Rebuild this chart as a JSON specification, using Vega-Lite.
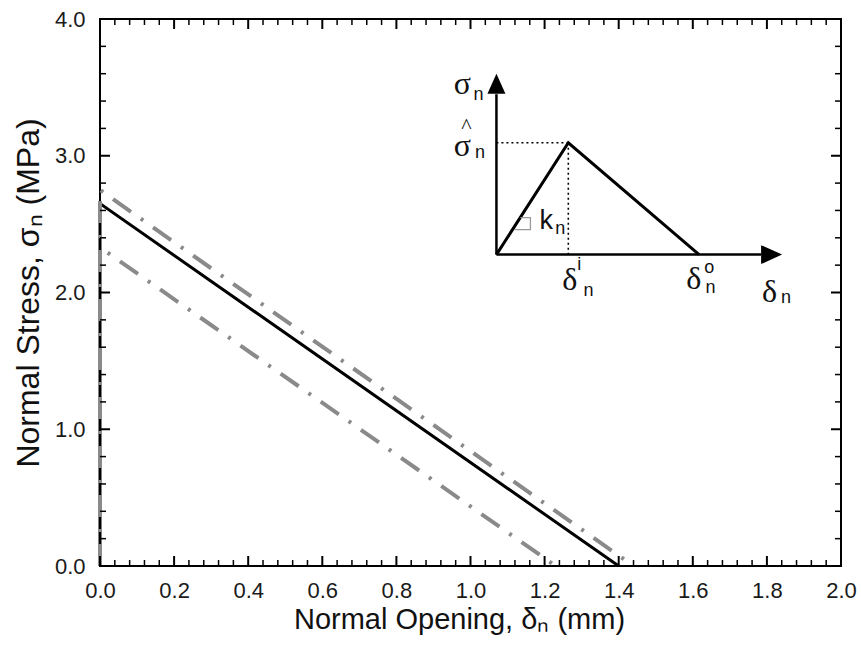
{
  "$schema": "https://vega.github.io/schema/vega-lite/v6.json",
  "width": 741,
  "height": 547,
  "autosize": {"type": "none"},
  "padding": {"left": 100, "top": 19, "right": 20, "bottom": 81},
  "background": "white",
  "config": {
    "view": {"stroke": "black", "strokeWidth": 2},
    "axis": {
      "grid": false,
      "domain": false,
      "labelFont": "Liberation Sans",
      "labelFontSize": 22,
      "labelColor": "#1a1a1a",
      "labelFlush": false,
      "labelOverlap": false,
      "titleFont": "Liberation Sans",
      "titleFontSize": 29,
      "titleFontWeight": "normal",
      "titleColor": "#111111"
    }
  },
  "datasets": {
    "curves": [
      {"series": "nominal", "i": 0, "x": 0, "y": 0},
      {"series": "nominal", "i": 1, "x": 0, "y": 2.65},
      {"series": "nominal", "i": 2, "x": 1.4, "y": 0},
      {"series": "upper", "i": 0, "x": 0, "y": 0},
      {"series": "upper", "i": 1, "x": 0, "y": 2.75},
      {"series": "upper", "i": 2, "x": 1.44, "y": 0},
      {"series": "lower", "i": 0, "x": 0, "y": 0},
      {"series": "lower", "i": 1, "x": 0, "y": 2.33},
      {"series": "lower", "i": 2, "x": 1.23, "y": 0}
    ],
    "xticks": [
      {"v": 0, "kind": "major"}, {"v": 0.04, "kind": "minor"}, {"v": 0.08, "kind": "minor"}, {"v": 0.12, "kind": "minor"}, {"v": 0.16, "kind": "minor"},
      {"v": 0.2, "kind": "major"}, {"v": 0.24, "kind": "minor"}, {"v": 0.28, "kind": "minor"}, {"v": 0.32, "kind": "minor"}, {"v": 0.36, "kind": "minor"},
      {"v": 0.4, "kind": "major"}, {"v": 0.44, "kind": "minor"}, {"v": 0.48, "kind": "minor"}, {"v": 0.52, "kind": "minor"}, {"v": 0.56, "kind": "minor"},
      {"v": 0.6, "kind": "major"}, {"v": 0.64, "kind": "minor"}, {"v": 0.68, "kind": "minor"}, {"v": 0.72, "kind": "minor"}, {"v": 0.76, "kind": "minor"},
      {"v": 0.8, "kind": "major"}, {"v": 0.84, "kind": "minor"}, {"v": 0.88, "kind": "minor"}, {"v": 0.92, "kind": "minor"}, {"v": 0.96, "kind": "minor"},
      {"v": 1.0, "kind": "major"}, {"v": 1.04, "kind": "minor"}, {"v": 1.08, "kind": "minor"}, {"v": 1.12, "kind": "minor"}, {"v": 1.16, "kind": "minor"},
      {"v": 1.2, "kind": "major"}, {"v": 1.24, "kind": "minor"}, {"v": 1.28, "kind": "minor"}, {"v": 1.32, "kind": "minor"}, {"v": 1.36, "kind": "minor"},
      {"v": 1.4, "kind": "major"}, {"v": 1.44, "kind": "minor"}, {"v": 1.48, "kind": "minor"}, {"v": 1.52, "kind": "minor"}, {"v": 1.56, "kind": "minor"},
      {"v": 1.6, "kind": "major"}, {"v": 1.64, "kind": "minor"}, {"v": 1.68, "kind": "minor"}, {"v": 1.72, "kind": "minor"}, {"v": 1.76, "kind": "minor"},
      {"v": 1.8, "kind": "major"}, {"v": 1.84, "kind": "minor"}, {"v": 1.88, "kind": "minor"}, {"v": 1.92, "kind": "minor"}, {"v": 1.96, "kind": "minor"},
      {"v": 2.0, "kind": "major"}
    ],
    "yticks": [
      {"v": 0, "kind": "major"}, {"v": 0.2, "kind": "minor"}, {"v": 0.4, "kind": "minor"}, {"v": 0.6, "kind": "minor"}, {"v": 0.8, "kind": "minor"},
      {"v": 1.0, "kind": "major"}, {"v": 1.2, "kind": "minor"}, {"v": 1.4, "kind": "minor"}, {"v": 1.6, "kind": "minor"}, {"v": 1.8, "kind": "minor"},
      {"v": 2.0, "kind": "major"}, {"v": 2.2, "kind": "minor"}, {"v": 2.4, "kind": "minor"}, {"v": 2.6, "kind": "minor"}, {"v": 2.8, "kind": "minor"},
      {"v": 3.0, "kind": "major"}, {"v": 3.2, "kind": "minor"}, {"v": 3.4, "kind": "minor"}, {"v": 3.6, "kind": "minor"}, {"v": 3.8, "kind": "minor"},
      {"v": 4.0, "kind": "major"}
    ],
    "inset": [
      {"part": "law", "i": 0, "x": 1.070, "y": 2.277},
      {"part": "law", "i": 1, "x": 1.264, "y": 3.095},
      {"part": "law", "i": 2, "x": 1.617, "y": 2.277},
      {"part": "vaxis", "i": 0, "x": 1.070, "y": 2.277},
      {"part": "vaxis", "i": 1, "x": 1.070, "y": 3.45},
      {"part": "haxis", "i": 0, "x": 1.070, "y": 2.277},
      {"part": "haxis", "i": 1, "x": 1.784, "y": 2.277},
      {"part": "hguide", "i": 0, "x": 1.070, "y": 3.095},
      {"part": "hguide", "i": 1, "x": 1.264, "y": 3.095},
      {"part": "vguide", "i": 0, "x": 1.264, "y": 3.095},
      {"part": "vguide", "i": 1, "x": 1.264, "y": 2.277},
      {"part": "slope", "i": 0, "x": 1.1348, "y": 2.547},
      {"part": "slope", "i": 1, "x": 1.1617, "y": 2.547},
      {"part": "slope", "i": 2, "x": 1.1617, "y": 2.460},
      {"part": "slope", "i": 3, "x": 1.1186, "y": 2.460}
    ],
    "arrows": [
      {"dir": "up", "x": 1.070, "y": 3.526},
      {"dir": "right", "x": 1.8127, "y": 2.277}
    ],
    "greek": [
      {"label": "σ", "x": 0.978, "y": 3.453},
      {"label": "σ", "x": 0.978, "y": 3.0},
      {"label": "δ", "x": 1.268, "y": 2.015},
      {"label": "δ", "x": 1.6025, "y": 2.029},
      {"label": "δ", "x": 1.807, "y": 1.927}
    ],
    "scripts": [
      {"label": "n", "x": 1.008, "y": 3.41},
      {"label": "n", "x": 1.012, "y": 2.98},
      {"label": "n", "x": 1.229, "y": 2.431},
      {"label": "i", "x": 1.288, "y": 2.161},
      {"label": "n", "x": 1.305, "y": 1.978},
      {"label": "o", "x": 1.631, "y": 2.146},
      {"label": "n", "x": 1.634, "y": 1.993},
      {"label": "n", "x": 1.838, "y": 1.920}
    ],
    "stiffness": [
      {"label": "k", "x": 1.186, "y": 2.467}
    ],
    "hat": [
      {"label": "^", "x": 0.989, "y": 3.165}
    ]
  },
  "layer": [
    {
      "data": {"name": "curves"},
      "transform": [{"filter": "datum.series === 'nominal'"}],
      "mark": {"type": "line", "color": "black", "strokeWidth": 3},
      "encoding": {
        "x": {"field": "x", "type": "quantitative", "scale": {"domain": [0, 2], "nice": false},
          "axis": {"orient": "bottom",
            "values": [0, 0.2, 0.4, 0.6, 0.8, 1.0, 1.2, 1.4, 1.6, 1.8, 2.0], "format": ".1f",
            "tickSize": -8, "tickOpacity": 0, "labelPadding": 22,
            "title": "Normal Opening, δₙ (mm)", "titlePadding": 4, "titleX": 359}},
        "y": {"field": "y", "type": "quantitative", "scale": {"domain": [0, 4], "nice": false},
          "axis": {"orient": "left",
            "values": [0, 1, 2, 3, 4], "format": ".1f",
            "tickSize": -8, "tickOpacity": 0, "labelPadding": 23,
            "title": "Normal Stress, σₙ (MPa)", "titleFontSize": 32, "titlePadding": 9}},
        "order": {"field": "i"}
      }
    },
    {
      "data": {"name": "curves"},
      "transform": [{"filter": "datum.series !== 'nominal'"}],
      "mark": {"type": "line", "color": "#8a8a8a", "strokeWidth": 4, "strokeDash": [22, 12, 3, 12], "strokeCap": "butt"},
      "encoding": {
        "x": {"field": "x", "type": "quantitative", "scale": {"domain": [0, 2], "nice": false}, "axis": null},
        "y": {"field": "y", "type": "quantitative", "scale": {"domain": [0, 4], "nice": false}, "axis": null},
        "detail": {"field": "series"},
        "order": {"field": "i"}
      }
    },
    {
      "data": {"name": "xticks"},
      "transform": [{"filter": "datum.kind === 'major'"}],
      "mark": {"type": "tick", "orient": "vertical", "color": "black", "opacity": 1, "size": 10, "thickness": 2, "yOffset": -5},
      "encoding": {
        "x": {"field": "v", "type": "quantitative", "scale": {"domain": [0, 2], "nice": false}, "axis": null},
        "y": {"datum": 0, "type": "quantitative", "scale": {"domain": [0, 4], "nice": false}, "axis": null}
      }
    },
    {
      "data": {"name": "xticks"},
      "transform": [{"filter": "datum.kind === 'minor'"}],
      "mark": {"type": "tick", "orient": "vertical", "color": "black", "opacity": 1, "size": 6, "thickness": 1.5, "yOffset": -3},
      "encoding": {
        "x": {"field": "v", "type": "quantitative", "scale": {"domain": [0, 2], "nice": false}, "axis": null},
        "y": {"datum": 0, "type": "quantitative", "scale": {"domain": [0, 4], "nice": false}, "axis": null}
      }
    },
    {
      "data": {"name": "xticks"},
      "transform": [{"filter": "datum.kind === 'major'"}],
      "mark": {"type": "tick", "orient": "vertical", "color": "black", "opacity": 1, "size": 10, "thickness": 2, "yOffset": 5},
      "encoding": {
        "x": {"field": "v", "type": "quantitative", "scale": {"domain": [0, 2], "nice": false}, "axis": null},
        "y": {"datum": 4, "type": "quantitative", "scale": {"domain": [0, 4], "nice": false}, "axis": null}
      }
    },
    {
      "data": {"name": "xticks"},
      "transform": [{"filter": "datum.kind === 'minor'"}],
      "mark": {"type": "tick", "orient": "vertical", "color": "black", "opacity": 1, "size": 6, "thickness": 1.5, "yOffset": 3},
      "encoding": {
        "x": {"field": "v", "type": "quantitative", "scale": {"domain": [0, 2], "nice": false}, "axis": null},
        "y": {"datum": 4, "type": "quantitative", "scale": {"domain": [0, 4], "nice": false}, "axis": null}
      }
    },
    {
      "data": {"name": "yticks"},
      "transform": [{"filter": "datum.kind === 'major'"}],
      "mark": {"type": "tick", "orient": "horizontal", "color": "black", "opacity": 1, "size": 10, "thickness": 2, "xOffset": 5},
      "encoding": {
        "x": {"datum": 0, "type": "quantitative", "scale": {"domain": [0, 2], "nice": false}, "axis": null},
        "y": {"field": "v", "type": "quantitative", "scale": {"domain": [0, 4], "nice": false}, "axis": null}
      }
    },
    {
      "data": {"name": "yticks"},
      "transform": [{"filter": "datum.kind === 'minor'"}],
      "mark": {"type": "tick", "orient": "horizontal", "color": "black", "opacity": 1, "size": 6, "thickness": 1.5, "xOffset": 3},
      "encoding": {
        "x": {"datum": 0, "type": "quantitative", "scale": {"domain": [0, 2], "nice": false}, "axis": null},
        "y": {"field": "v", "type": "quantitative", "scale": {"domain": [0, 4], "nice": false}, "axis": null}
      }
    },
    {
      "data": {"name": "yticks"},
      "transform": [{"filter": "datum.kind === 'major'"}],
      "mark": {"type": "tick", "orient": "horizontal", "color": "black", "opacity": 1, "size": 10, "thickness": 2, "xOffset": -5},
      "encoding": {
        "x": {"datum": 2, "type": "quantitative", "scale": {"domain": [0, 2], "nice": false}, "axis": null},
        "y": {"field": "v", "type": "quantitative", "scale": {"domain": [0, 4], "nice": false}, "axis": null}
      }
    },
    {
      "data": {"name": "yticks"},
      "transform": [{"filter": "datum.kind === 'minor'"}],
      "mark": {"type": "tick", "orient": "horizontal", "color": "black", "opacity": 1, "size": 6, "thickness": 1.5, "xOffset": -3},
      "encoding": {
        "x": {"datum": 2, "type": "quantitative", "scale": {"domain": [0, 2], "nice": false}, "axis": null},
        "y": {"field": "v", "type": "quantitative", "scale": {"domain": [0, 4], "nice": false}, "axis": null}
      }
    },
    {
      "data": {"name": "inset"},
      "transform": [{"filter": "datum.part === 'law'"}],
      "mark": {"type": "line", "color": "black", "strokeWidth": 3},
      "encoding": {
        "x": {"field": "x", "type": "quantitative", "scale": {"domain": [0, 2], "nice": false}, "axis": null},
        "y": {"field": "y", "type": "quantitative", "scale": {"domain": [0, 4], "nice": false}, "axis": null},
        "order": {"field": "i"}
      }
    },
    {
      "data": {"name": "inset"},
      "transform": [{"filter": "datum.part === 'vaxis' || datum.part === 'haxis'"}],
      "mark": {"type": "line", "color": "black", "strokeWidth": 2.5},
      "encoding": {
        "x": {"field": "x", "type": "quantitative", "scale": {"domain": [0, 2], "nice": false}, "axis": null},
        "y": {"field": "y", "type": "quantitative", "scale": {"domain": [0, 4], "nice": false}, "axis": null},
        "detail": {"field": "part"},
        "order": {"field": "i"}
      }
    },
    {
      "data": {"name": "inset"},
      "transform": [{"filter": "datum.part === 'hguide' || datum.part === 'vguide'"}],
      "mark": {"type": "line", "color": "black", "strokeWidth": 1.6, "strokeDash": [2, 3]},
      "encoding": {
        "x": {"field": "x", "type": "quantitative", "scale": {"domain": [0, 2], "nice": false}, "axis": null},
        "y": {"field": "y", "type": "quantitative", "scale": {"domain": [0, 4], "nice": false}, "axis": null},
        "detail": {"field": "part"},
        "order": {"field": "i"}
      }
    },
    {
      "data": {"name": "inset"},
      "transform": [{"filter": "datum.part === 'slope'"}],
      "mark": {"type": "line", "color": "#9a9a9a", "strokeWidth": 1.3},
      "encoding": {
        "x": {"field": "x", "type": "quantitative", "scale": {"domain": [0, 2], "nice": false}, "axis": null},
        "y": {"field": "y", "type": "quantitative", "scale": {"domain": [0, 4], "nice": false}, "axis": null},
        "order": {"field": "i"}
      }
    },
    {
      "data": {"name": "arrows"},
      "transform": [{"filter": "datum.dir === 'up'"}],
      "mark": {"type": "point", "filled": true, "color": "black", "opacity": 1, "size": 400, "shape": "M0,-1L0.9,1L-0.9,1Z"},
      "encoding": {
        "x": {"field": "x", "type": "quantitative", "scale": {"domain": [0, 2], "nice": false}, "axis": null},
        "y": {"field": "y", "type": "quantitative", "scale": {"domain": [0, 4], "nice": false}, "axis": null}
      }
    },
    {
      "data": {"name": "arrows"},
      "transform": [{"filter": "datum.dir === 'right'"}],
      "mark": {"type": "point", "filled": true, "color": "black", "opacity": 1, "size": 441, "shape": "M1,0L-1,0.9L-1,-0.9Z"},
      "encoding": {
        "x": {"field": "x", "type": "quantitative", "scale": {"domain": [0, 2], "nice": false}, "axis": null},
        "y": {"field": "y", "type": "quantitative", "scale": {"domain": [0, 4], "nice": false}, "axis": null}
      }
    },
    {
      "data": {"name": "greek"},
      "mark": {"type": "text", "font": "Liberation Serif", "fontSize": 32, "color": "#111111", "align": "center", "baseline": "alphabetic"},
      "encoding": {
        "x": {"field": "x", "type": "quantitative", "scale": {"domain": [0, 2], "nice": false}, "axis": null},
        "y": {"field": "y", "type": "quantitative", "scale": {"domain": [0, 4], "nice": false}, "axis": null},
        "text": {"field": "label"}
      }
    },
    {
      "data": {"name": "scripts"},
      "mark": {"type": "text", "font": "Liberation Sans", "fontSize": 18, "color": "#111111", "align": "left", "baseline": "alphabetic"},
      "encoding": {
        "x": {"field": "x", "type": "quantitative", "scale": {"domain": [0, 2], "nice": false}, "axis": null},
        "y": {"field": "y", "type": "quantitative", "scale": {"domain": [0, 4], "nice": false}, "axis": null},
        "text": {"field": "label"}
      }
    },
    {
      "data": {"name": "stiffness"},
      "mark": {"type": "text", "font": "Liberation Sans", "fontSize": 27, "color": "#111111", "align": "left", "baseline": "alphabetic"},
      "encoding": {
        "x": {"field": "x", "type": "quantitative", "scale": {"domain": [0, 2], "nice": false}, "axis": null},
        "y": {"field": "y", "type": "quantitative", "scale": {"domain": [0, 4], "nice": false}, "axis": null},
        "text": {"field": "label"}
      }
    },
    {
      "data": {"name": "hat"},
      "mark": {"type": "text", "font": "Liberation Serif", "fontSize": 22, "color": "#111111", "align": "center", "baseline": "alphabetic"},
      "encoding": {
        "x": {"field": "x", "type": "quantitative", "scale": {"domain": [0, 2], "nice": false}, "axis": null},
        "y": {"field": "y", "type": "quantitative", "scale": {"domain": [0, 4], "nice": false}, "axis": null},
        "text": {"field": "label"}
      }
    }
  ],
  "resolve": {"axis": {"x": "independent", "y": "independent"}}
}
